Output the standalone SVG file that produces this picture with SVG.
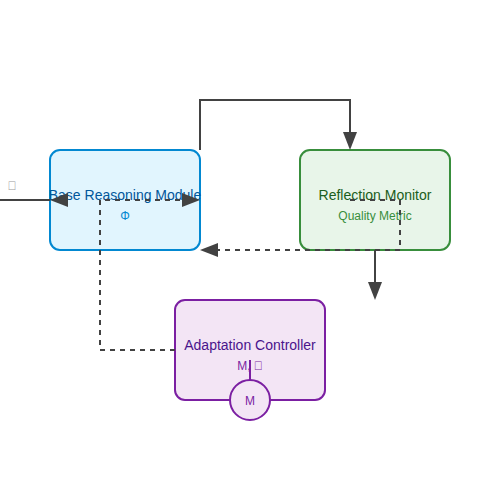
<svg xmlns="http://www.w3.org/2000/svg" width="500" height="500" viewBox="0 0 500 500">
<style>
.lbl{font-family:"Liberation Sans",Arial,sans-serif;text-anchor:middle}
.t{font-size:14px}
.s{font-size:12px}
.c{fill:none;stroke:#424242;stroke-width:2}
.d{stroke-dasharray:5,5}
.ah{fill:#424242}
</style>
<rect width="500" height="500" fill="#fff"/>
<g id="base">
<rect x="50" y="150" width="150" height="100" rx="10" fill="#E1F5FE" stroke="#0288D1" stroke-width="2"/>
<text class="lbl t" x="125" y="200" fill="#01579B">Base Reasoning Module</text>
<text class="lbl s" x="125" y="220" fill="#0288D1">Φ</text>
</g>
<g id="reflection">
<rect x="300" y="150" width="150" height="100" rx="10" fill="#E8F5E9" stroke="#388E3C" stroke-width="2"/>
<text class="lbl t" x="375" y="200" fill="#1B5E20">Reflection Monitor</text>
<text class="lbl s" x="375" y="220" fill="#388E3C">Quality Metric</text>
</g>
<g id="adaptation">
<rect x="175" y="300" width="150" height="100" rx="10" fill="#F3E5F5" stroke="#7B1FA2" stroke-width="2"/>
<text class="lbl t" x="250" y="350" fill="#4A148C">Adaptation Controller</text>
<text class="lbl s" x="250" y="370" fill="#7B1FA2">M, &#xE000;</text>
</g>
<g id="connectors">
<path class="c" d="M0,200 L50,200"/>
<polygon class="ah" points="50,200 68,193 68,207"/>
<path class="c d" d="M175,350 L100,350 L100,200 L184,200"/>
<polygon class="ah" points="200,200 182,193 182,207"/>
<path class="c" d="M200,150 L200,100 L350,100 L350,134"/>
<polygon class="ah" points="350,150 343,132 357,132"/>
<path class="c d" d="M350,200 L400,200 L400,250 L216,250"/>
<polygon class="ah" points="200,250 218,243 218,257"/>
<path class="c" d="M375,250 L375,284"/>
<polygon class="ah" points="375,300 368,282 382,282"/>
<text class="lbl" x="12" y="190" font-size="12" fill="#999">&#xE000;</text>
</g>
<g id="memory">
<line x1="250" y1="360" x2="250" y2="380" stroke="#7B1FA2" stroke-width="2"/>
<circle cx="250" cy="400" r="20" fill="#F3E5F5" stroke="#7B1FA2" stroke-width="2"/>
<text class="lbl s" x="250" y="405" fill="#7B1FA2">M</text>
</g>
</svg>
